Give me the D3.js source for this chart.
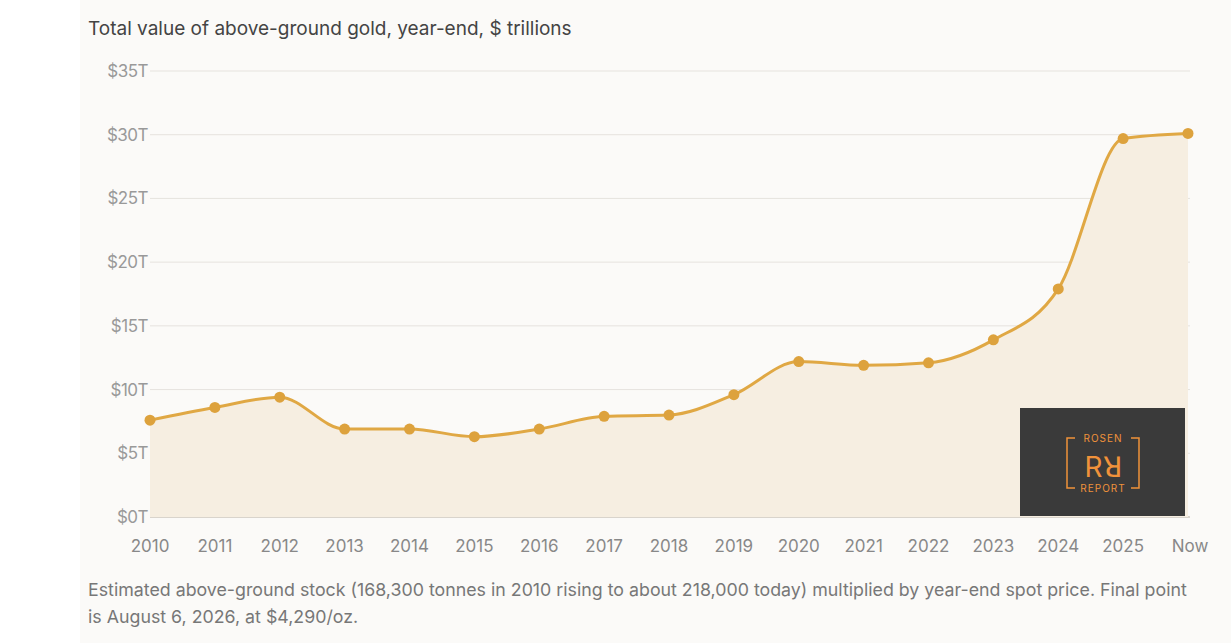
<!DOCTYPE html>
<html><head><meta charset="utf-8">
<script src="https://cdn.jsdelivr.net/npm/d3@7"></script>
<style>
body{margin:0;background:#fff;font-family:Inter,"Open Sans",sans-serif}
</style></head><body>
<svg id="c" width="1231" height="643"></svg>
<script>
// data
const years = ["2010","2011","2012","2013","2014","2015","2016","2017","2018","2019","2020","2021","2022","2023","2024","2025","Now"]
const values = [7.6,8.6,9.4,6.9,6.9,6.3,6.9,7.9,8.0,9.6,12.2,11.9,12.1,13.9,17.9,29.7,30.1]
const yTicks = [0,5,10,15,20,25,30,35]

const svg = d3.select("#c")
svg.append("rect").attr("x",80).attr("y",0).attr("width",1151).attr("height",643).attr("fill","#fbfaf8")

const x = d3.scalePoint().domain(years).range([150,1188])
const y = d3.scaleLinear().domain([0,35]).range([517,71])

svg.append("text").attr("x",88).attr("y",35).attr("font-size","19px").attr("fill","#444")
  .text("Total value of above-ground gold, year-end, $ trillions")

// grid
svg.selectAll(".grid").data(yTicks).enter().append("line")
  .attr("x1",150).attr("x2",1190).attr("y1",d=>y(d)).attr("y2",d=>y(d))
  .attr("stroke",d=>d===0?"#d9d4cc":"#e6e3de").attr("stroke-width",d=>d===0?2:1)
svg.selectAll(".yl").data(yTicks).enter().append("text")
  .attr("x",148).attr("y",d=>y(d)+6).attr("text-anchor","end")
  .attr("font-size","17px").attr("letter-spacing","-0.5px").attr("fill","#999").text(d=>"$"+d+"T")

const pts = years.map((d,i)=>[x(d),y(values[i])])
const curve = d3.curveMonotoneX
svg.append("path").attr("d",d3.area().x(d=>d[0]).y0(y(0)).y1(d=>d[1]).curve(curve)(pts))
  .attr("fill","#f6eee1")
svg.append("path").attr("d",d3.line().curve(curve)(pts))
  .attr("fill","none").attr("stroke","#e0a844").attr("stroke-width",3)
svg.selectAll(".pt").data(pts).enter().append("circle")
  .attr("cx",d=>d[0]).attr("cy",d=>d[1]).attr("r",5.5).attr("fill","#dda23d")

svg.selectAll(".xl").data(years).enter().append("text")
  .attr("x",d=>x(d)+(d==="Now"?2:0)).attr("y",552).attr("text-anchor","middle")
  .attr("font-size","17px").attr("fill","#888").text(d=>d)

// logo
const lg = svg.append("g").attr("transform","translate(1020,408)")
lg.append("rect").attr("width",165).attr("height",108).attr("fill","#3a3a3a")
const o = "#f0923a"
lg.append("path").attr("d","M55,30 H47 V80 H55 M111,30 H119 V80 H111").attr("fill","none").attr("stroke",o).attr("stroke-width",1.5)
lg.append("text").attr("x",83).attr("y",34).attr("text-anchor","middle").attr("font-size","10px").attr("fill",o).attr("letter-spacing","1px").text("ROSEN")
lg.append("text").attr("x",83).attr("y",84).attr("text-anchor","middle").attr("font-size","10px").attr("fill",o).attr("letter-spacing","1px").text("REPORT")
lg.append("text").attr("x",83).attr("y",69).attr("text-anchor","middle").attr("font-size","28px").attr("fill",o).text("Rꓤ")

svg.append("text").attr("x",88).attr("y",596).attr("font-size","17.8px").attr("fill","#777")
  .text("Estimated above-ground stock (168,300 tonnes in 2010 rising to about 218,000 today) multiplied by year-end spot price. Final point")
svg.append("text").attr("x",88).attr("y",623).attr("font-size","17.8px").attr("fill","#777")
  .text("is August 6, 2026, at $4,290/oz.")
</script></body></html>
